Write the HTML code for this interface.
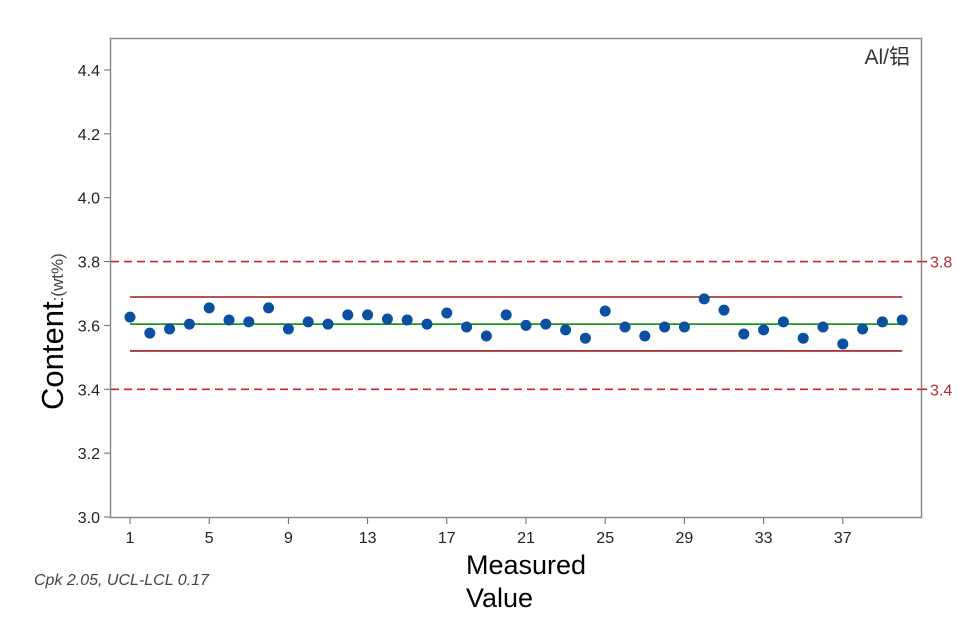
<!DOCTYPE html>
<html><head><meta charset="utf-8"><style>
body{margin:0;background:#fff;}
svg text{font-family:"Liberation Sans","Noto Sans CJK SC",sans-serif;}
</style></head><body>
<svg id="chart" width="978" height="623" viewBox="0 0 978 623" xmlns="http://www.w3.org/2000/svg">
<rect x="110.5" y="38.5" width="811" height="479" fill="#fff" stroke="#8a8a8a" stroke-width="1.5"/>
<text x="910" y="64" font-size="21" fill="#333" text-anchor="end">Al/铝</text>
<text transform="translate(63,410) rotate(-90)" font-size="31" fill="#000">Content<tspan font-size="17" fill="#444">:(wt%)</tspan></text>
<text x="466" y="574" font-size="27" fill="#000"><tspan x="466">Measured</tspan><tspan x="466" dy="33">Value</tspan></text>
<text x="34" y="585" font-size="16" font-style="italic" fill="#444">Cpk 2.05,  UCL-LCL 0.17</text>
<g id="axes"></g>
<g id="lines"></g>
<g id="points"></g>
</svg>
<script>
const values=[3.626,3.576,3.589,3.604,3.655,3.617,3.611,3.655,3.589,3.611,3.604,3.633,3.633,3.620,3.617,3.604,3.639,3.595,3.567,3.633,3.600,3.604,3.586,3.560,3.645,3.595,3.567,3.595,3.595,3.683,3.648,3.573,3.586,3.611,3.560,3.595,3.542,3.589,3.611,3.617];
const yTicks=[3.0,3.2,3.4,3.6,3.8,4.0,4.2,4.4];
const xTicks=[1,5,9,13,17,21,25,29,33,37];
const centerLine=[3.604];
const controlLimits=[3.689,3.520];
const specLimits=[3.8,3.4];
const NS="http://www.w3.org/2000/svg";
function x(i){return 130+(i-1)*19.8;}
function y(v){return 517-(v-3.0)*319.3;}
function mk(tag,attrs,parent){const e=document.createElementNS(NS,tag);for(const k in attrs)e.setAttribute(k,attrs[k]);parent.appendChild(e);return e;}
const ax=document.getElementById('axes'),ln=document.getElementById('lines'),pt=document.getElementById('points');
yTicks.forEach(t=>{
  const l=mk('line',{x1:104,x2:110,y1:y(t),y2:y(t),stroke:'#666'},ax);
  
  
  const tx=mk('text',{x:100,y:y(t)+6,'font-size':16,'text-anchor':'end',fill:'#222'},ax);
  tx.textContent=t.toFixed(1);
  
  
});
xTicks.forEach(t=>{
  const l=mk('line',{x1:x(t),x2:x(t),y1:518,y2:524,stroke:'#666'},ax);
  
  
  const tx=mk('text',{x:x(t),y:543,'font-size':16,'text-anchor':'middle',fill:'#222'},ax);
  tx.textContent=t;
  
  
});
specLimits.forEach(s=>{
  const l=mk('line',{x1:111,x2:921,y1:y(s),y2:y(s),stroke:'#d02020','stroke-width':1.6,'stroke-dasharray':'8,5'},ln);
  
  
  const tk=mk('line',{x1:921,x2:927,y1:y(s),y2:y(s),stroke:'#d02020','stroke-width':1.6},ln);
  
  
  const tx=mk('text',{x:930,y:y(s)+6,'font-size':16,fill:'#b03030','font-family':'Liberation Serif, serif'},ln);
  tx.textContent=s.toFixed(1);
  
  
});
controlLimits.forEach(c=>{
  const l=mk('line',{x1:x(1),x2:x(values.length),y1:y(c),y2:y(c),stroke:'#a01818','stroke-width':1.6},ln);
  
  
});
centerLine.forEach(c=>{
  const l=mk('line',{x1:x(1),x2:x(values.length),y1:y(c),y2:y(c),stroke:'#1a9a1a','stroke-width':1.8},ln);
  
  
});
values.forEach((v,i)=>{
  const c=mk('circle',{cx:x(i+1),cy:y(v),r:5.5,fill:'#0a4fa0'},pt);
  
  
});
</script>
</body></html>
